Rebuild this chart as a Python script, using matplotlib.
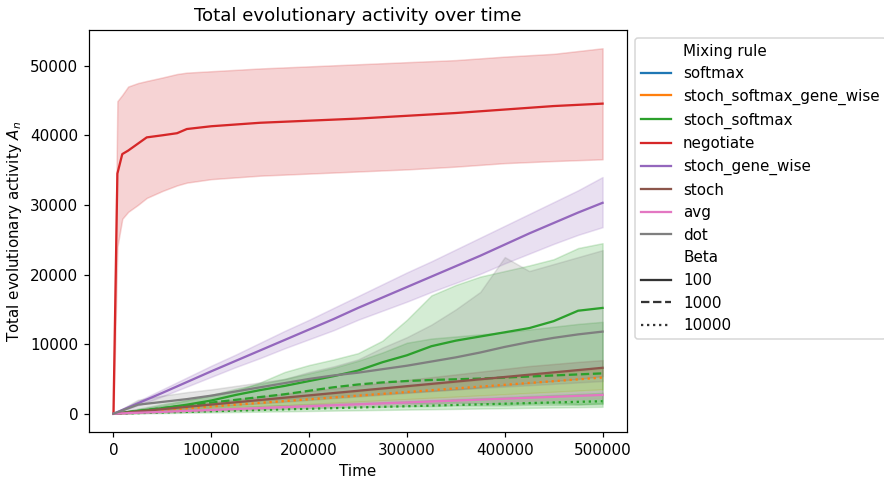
import matplotlib
matplotlib.use("Agg")
import matplotlib.pyplot as plt
from matplotlib.lines import Line2D

# time grid for the slow series and a finer early grid for "negotiate"
t = [0, 25000, 50000, 75000, 100000, 125000, 150000, 175000, 200000, 225000, 250000,
     275000, 300000, 325000, 350000, 375000, 400000, 425000, 450000, 475000, 500000]
t_neg = [0, 4000, 9000, 15000, 25000, 34000, 50000, 65000, 75000, 100000, 150000,
         200000, 250000, 300000, 350000, 400000, 450000, 500000]

rules = ["softmax", "stoch_softmax_gene_wise", "stoch_softmax", "negotiate",
         "stoch_gene_wise", "stoch", "avg", "dot"]
betas = ["100", "1000", "10000"]

# negotiate, beta 100
neg_mean = [0, 34500, 37300, 37800, 38800, 39700, 40000, 40300, 40900, 41300, 41800,
            42100, 42400, 42800, 43200, 43700, 44200, 44550]
neg_hi = [0, 44900, 45800, 47000, 47500, 47800, 48300, 48800, 49000, 49200, 49600,
          49900, 50200, 50500, 50800, 51300, 51700, 52500]
neg_lo = [0, 24000, 28000, 29000, 30000, 31000, 32000, 32800, 33200, 33700, 34200,
          34500, 34800, 35100, 35500, 36000, 36300, 36550]

# stoch_gene_wise, beta 100
sgw_mean = [0, 1500, 3000, 4550, 6100, 7600, 9100, 10600, 12100, 13600, 15200, 16700,
            18200, 19700, 21200, 22700, 24300, 25900, 27400, 28900, 30300]
sgw_hi = [0, 1800, 3500, 5200, 6900, 8500, 10200, 11900, 13500, 15200, 16900, 18600,
          20300, 21900, 23600, 25300, 27000, 28700, 30400, 32100, 34000]
sgw_lo = [0, 1200, 2500, 3900, 5300, 6700, 8000, 9400, 10700, 12000, 13500, 14800,
          16100, 17500, 18800, 20100, 21600, 23000, 24400, 25700, 26800]

# stoch_softmax, beta 100
ss100_mean = [0, 400, 800, 1300, 1900, 2700, 3400, 4000, 4700, 5400, 6200, 7400, 8400,
              9700, 10500, 11100, 11700, 12300, 13300, 14800, 15200]
ss100_hi = [0, 700, 1400, 2000, 2600, 3300, 4500, 6000, 7000, 7800, 8700, 10500, 13500,
            17000, 18500, 19700, 20500, 21300, 22200, 23800, 24500]
ss100_lo = [0, 200, 400, 600, 800, 1000, 1100, 1200, 1300, 1400, 1400, 1500, 1500, 1500,
            1600, 1500, 1400, 1500, 1600, 1400, 1500]

# stoch_softmax, beta 1000
ss1000_mean = [0, 400, 800, 1200, 1600, 2000, 2400, 2800, 3300, 3800, 4200, 4500, 4700,
               4850, 4950, 5050, 5200, 5350, 5500, 5650, 5800]
ss1000_hi = [0, 600, 1200, 1900, 2700, 3600, 4300, 5000, 5800, 6600, 7600, 8800, 10200,
             10800, 11100, 11400, 11700, 12100, 12500, 12900, 13200]
ss1000_lo = [0, 100, 200, 300, 400, 500, 600, 700, 800, 900, 1000, 1000, 1100, 1100, 1200,
             1200, 1200, 1300, 1300, 1300, 1400]

# stoch_softmax, beta 10000
ss10k_mean = [0, 90, 180, 270, 360, 450, 540, 630, 720, 810, 900, 990, 1080, 1170, 1260,
              1350, 1440, 1530, 1620, 1710, 1800]
ss10k_hi = [0, 150, 300, 450, 600, 750, 900, 1050, 1200, 1350, 1500, 1650, 1800, 1950,
            2100, 2250, 2400, 2550, 2700, 2850, 3000]
ss10k_lo = [0, 50, 100, 150, 200, 250, 300, 350, 400, 450, 500, 550, 600, 650, 700, 750,
            800, 850, 900, 950, 1000]

# stoch_softmax_gene_wise, beta 10000
ssgw_mean = [0, 260, 520, 780, 1040, 1300, 1560, 1820, 2080, 2340, 2600, 2860, 3120, 3380,
             3640, 3900, 4160, 4420, 4680, 4940, 5200]
ssgw_hi = [0, 330, 650, 980, 1300, 1630, 1950, 2280, 2600, 2930, 3250, 3580, 3900, 4230,
           4550, 4880, 5200, 5530, 5850, 6180, 6500]
ssgw_lo = [0, 180, 350, 530, 700, 880, 1050, 1230, 1400, 1580, 1750, 1930, 2100, 2280,
           2450, 2630, 2800, 2980, 3150, 3330, 3500]

# stoch, beta 100
stoch_mean = [0, 330, 660, 990, 1320, 1650, 1980, 2310, 2640, 2970, 3300, 3630, 3960, 4290,
              4620, 4950, 5280, 5610, 5940, 6270, 6600]
stoch_hi = [0, 450, 850, 1250, 1650, 2050, 2450, 2850, 3250, 3650, 4050, 4450, 4850, 5250,
            5650, 6050, 6450, 6850, 7150, 7450, 7700]
stoch_lo = [0, 250, 500, 750, 1000, 1250, 1500, 1750, 2000, 2250, 2500, 2750, 3000, 3250,
            3500, 3800, 4100, 4400, 4700, 5000, 5400]

# avg, beta 100
avg_mean = [0, 140, 270, 410, 540, 680, 810, 950, 1080, 1220, 1350, 1490, 1620, 1760, 1890,
            2030, 2160, 2300, 2430, 2570, 2700]
avg_hi = [0, 170, 330, 500, 660, 830, 990, 1160, 1320, 1490, 1650, 1820, 1980, 2150, 2310,
          2480, 2640, 2810, 2970, 3140, 3300]
avg_lo = [0, 110, 220, 330, 440, 550, 660, 770, 880, 990, 1100, 1210, 1320, 1430, 1540,
          1650, 1760, 1870, 1980, 2090, 2200]

# dot, beta 100
dot_mean = [0, 1300, 1700, 2100, 2600, 3200, 3800, 4400, 5000, 5500, 5900, 6400, 6900, 7500,
            8100, 8800, 9600, 10300, 10900, 11400, 11800]
dot_hi = [0, 2000, 2600, 3100, 3500, 4000, 4500, 5000, 6000, 6800, 7800, 9500, 11000,
          12800, 15000, 17500, 22500, 20500, 21500, 22500, 23500]
dot_lo = [0, 700, 1000, 1300, 1500, 1700, 1900, 2100, 2300, 2500, 2700, 2900, 3100, 3300,
          3500, 3700, 3900, 4100, 4300, 4500, 4700]

colors = ["#1f77b4", "#ff7f0e", "#2ca02c", "#d62728", "#9467bd", "#8c564b", "#e377c2", "#7f7f7f"]
dashes = {"100": "-", "1000": "--", "10000": ":"}

series = [
    ("stoch_softmax_gene_wise", "10000", t, ssgw_mean, ssgw_lo, ssgw_hi),
    ("stoch_softmax", "100", t, ss100_mean, ss100_lo, ss100_hi),
    ("stoch_softmax", "1000", t, ss1000_mean, ss1000_lo, ss1000_hi),
    ("stoch_softmax", "10000", t, ss10k_mean, ss10k_lo, ss10k_hi),
    ("negotiate", "100", t_neg, neg_mean, neg_lo, neg_hi),
    ("stoch_gene_wise", "100", t, sgw_mean, sgw_lo, sgw_hi),
    ("stoch", "100", t, stoch_mean, stoch_lo, stoch_hi),
    ("avg", "100", t, avg_mean, avg_lo, avg_hi),
    ("dot", "100", t, dot_mean, dot_lo, dot_hi),
]

# original looks rendered at a slightly higher dpi, so scale everything up
fig = plt.figure(figsize=(884 / 109, 477 / 109), dpi=109)
ax = fig.add_axes([0.1007, 0.0943, 0.6086, 0.8428])

for rule, beta, x, m, lo, hi in series:
    c = colors[rules.index(rule)]
    ax.fill_between(x, lo, hi, color=c, alpha=0.2, linewidth=1)
    ax.plot(x, m, color=c, linestyle=dashes[beta], linewidth=1.5)

ax.set_title("Total evolutionary activity over time")
ax.set_xlabel("Time")
ax.set_ylabel("Total evolutionary activity $A_n$")

handles = [Line2D([], [], linestyle="none")]
labels = ["Mixing rule"]
for r, c in zip(rules, colors):
    handles.append(Line2D([], [], color=c, linewidth=1.5))
    labels.append(r)
handles.append(Line2D([], [], linestyle="none"))
labels.append("Beta")
for b in betas:
    handles.append(Line2D([], [], color="#333333", linestyle=dashes[b], linewidth=1.5))
    labels.append(b)
ax.legend(handles, labels, loc="upper left", bbox_to_anchor=(1.0, 1.0))

fig.savefig("out.png", dpi=109)
